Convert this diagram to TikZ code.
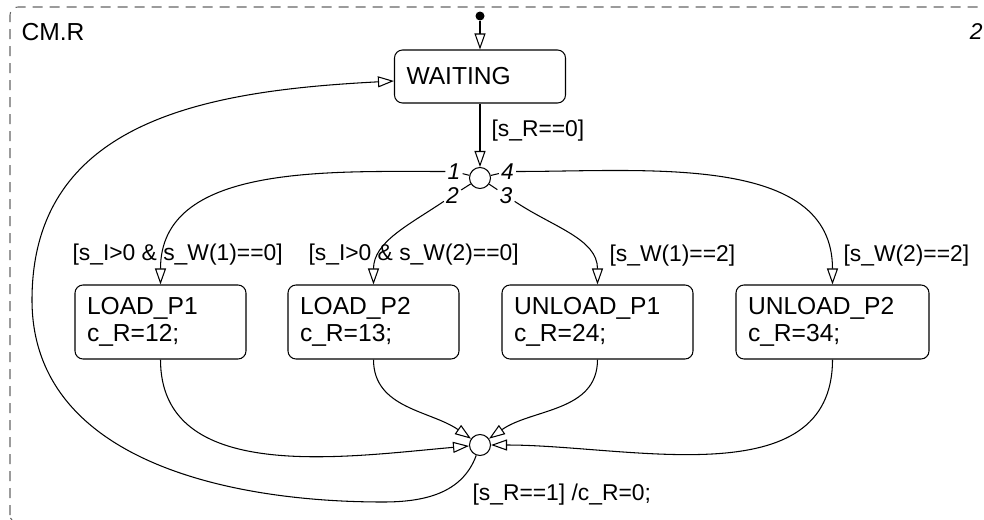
\documentclass[tikz,border=0pt]{standalone}
\usepackage{fontspec}
\setmainfont{Liberation Sans}
\usetikzlibrary{arrows.meta}

\tikzset{
  state/.style={draw, rounded corners=0.16cm, align=left, inner xsep=0.24cm,
    text width=#1, minimum height=1.48cm, font=\fontsize{14}{15.3}\selectfont},
  junc/.style={draw, circle, minimum size=0.42cm, inner sep=0},
  guard/.style={inner sep=0, anchor=west, font=\fontsize{13}{15}\selectfont},
  num/.style={inner sep=1pt, font=\fontsize{13}{15}\selectfont\itshape},
}

\begin{document}
\begin{tikzpicture}[>={Triangle[open,length=0.32cm,width=0.22cm]}, line width=0.6pt]
  \useasboundingbox (0,0) rectangle (19.68,10.38);
  \begin{scope}
    \clip (0,0) rectangle (19.68,10.38);
    \draw [black!60, dash pattern=on 0.2cm off 0.14cm, rounded corners=0.16cm] (0.2,-0.08) rectangle (19.9,10.24);
  \end{scope}
  \node [anchor=west, inner sep=0, font=\fontsize{14}{16}\selectfont] (chart) at (0.42,9.74) {CM.R};
  \node [anchor=east, inner sep=0, font=\fontsize{13}{16}\selectfont\itshape] (chartno) at (19.66,9.75) {2};

  \node [state=2.94cm, minimum height=1.06cm] (wait) at (9.6,8.85) {WAITING};
  \node [state=2.94cm] (lp1) at (3.21,3.94) {LOAD\_P1\\c\_R=12;};
  \node [state=2.94cm] (lp2) at (7.47,3.94) {LOAD\_P2\\c\_R=13;};
  \node [state=3.34cm] (up1) at (11.95,3.94) {UNLOAD\_P1\\c\_R=24;};
  \node [state=3.38cm] (up2) at (16.65,3.94) {UNLOAD\_P2\\c\_R=34;};

  \node [fill, circle, minimum size=0.18cm, inner sep=0] (init) at (9.6,10.06) {};
  \node [junc] (j1) at (9.6,6.82) {};
  \node [junc] (j2) at (9.6,1.48) {};

  \node [num] (n1) at (9.08,6.95) {1};
  \node [num] (n2) at (9.05,6.47) {2};
  \node [num] (n3) at (10.12,6.47) {3};
  \node [num] (n4) at (10.15,6.95) {4};

  \node [guard] (g0) at (9.82,7.76) {[s\_R==0]};
  \node [guard] (g1) at (1.44,5.28) {[s\_I>0 \& s\_W(1)==0]};
  \node [guard] (g2) at (6.16,5.28) {[s\_I>0 \& s\_W(2)==0]};
  \node [guard] (g3) at (12.18,5.26) {[s\_W(1)==2]};
  \node [guard] (g4) at (16.86,5.26) {[s\_W(2)==2]};
  \node [guard] (g5) at (9.44,0.48) {[s\_R==1] /c\_R=0;};

  \coordinate (lb) at (7.66,0.34);
  \coordinate (lm) at (0.64,4.38);

  \draw [->] (init) -- (wait);
  \draw [->] (wait) -- (j1);
  \draw (j1) -- (n1);
  \draw (j1) -- (n2);
  \draw (j1) -- (n3);
  \draw (j1) -- (n4);
  \draw [->] (n1) to [out=180, in=90] (lp1);
  \draw [->] (n2) to [out=214, in=90] (lp2);
  \draw [->] (n3) to [out=-34, in=90] (up1);
  \draw [->] (n4) to [out=0, in=90] (up2);
  \draw [->] (lp1) to [out=270, in=185] (j2);
  \draw [->] (lp2) to [out=270, in=145] (j2);
  \draw [->] (up1) to [out=270, in=35] (j2);
  \draw [->] (up2) to [out=270, in=0] (j2);
  \draw [->] (j2) to [out=250, in=0] (lb) to [out=180, in=270] (lm)
    to [out=90, in=183, looseness=1.1] (wait);
\end{tikzpicture}
\end{document}
